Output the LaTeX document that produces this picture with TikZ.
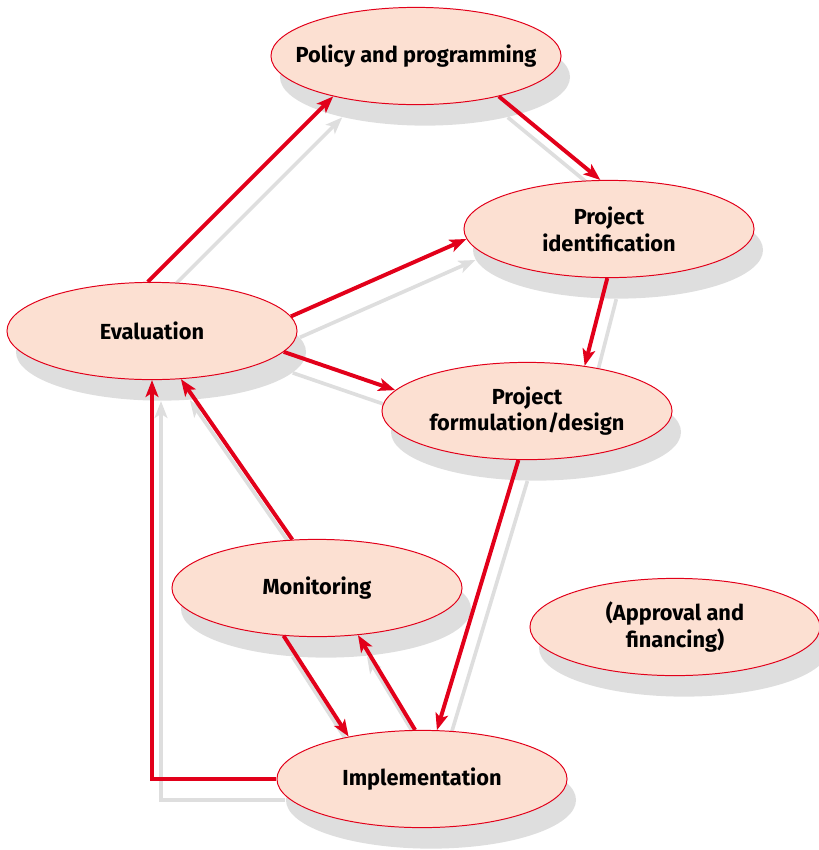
\documentclass[tikz,border=0pt]{standalone}
\usepackage{fontspec}
\setmainfont{Fira Sans}
\usepackage{tikz}
\usetikzlibrary{positioning, arrows.meta, shapes.geometric, shadows}
\definecolor{flowred}{HTML}{E2001A}
\definecolor{stagefill}{HTML}{FCE0D2}
\definecolor{shadegray}{HTML}{DEDEDE}
\pgfdeclarelayer{bg}
\pgfsetlayers{bg,main}

\begin{document}
\begin{tikzpicture}[x=0.025cm, y=-0.025cm,
    stage/.style={ellipse, draw=flowred, line width=0.7pt, fill=stagefill,
        minimum width=7.25cm, minimum height=2.43cm, inner sep=0pt, align=center,
        font=\fontsize{15.5}{19}\selectfont\bfseries,
        drop shadow={shadow xshift=0.225cm, shadow yshift=-0.525cm, fill=shadegray, opacity=1}},
    flow/.style={draw=flowred, line width=2.8pt, -{Stealth[length=0.42cm, width=0.32cm, inset=0.1cm]}},
    ghost/.style={draw=shadegray, line width=2.6pt, -{Stealth[length=0.42cm, width=0.32cm, inset=0.1cm]}},
    sh/.style={shift={(9,21)}}]
    \useasboundingbox (0,0) rectangle (818,850);

    % Stages
    \node[stage] (policy) at (416,56) {\makebox[5cm]{Policy and programming}};
    \node[stage] (ident) at (609,229) {Project\\identification};
    \node[stage] (eval) at (152,331) {Evaluation};
    \node[stage] (design) at (527,411) {Project\\formulation/design};
    \node[stage] (monit) at (317,588) {Monitoring};
    \node[stage] (approv) at (675,627) {(Approval and\\financing)};
    \node[stage] (impl) at (422,779) {Implementation};

    % Shadows of the arrows
    \begin{pgfonlayer}{bg}
        \draw[ghost] ([sh]eval.95) -- ([sh]policy.206);
        \draw[ghost] ([sh]policy.334) -- ([sh]ident.100);
        \draw[ghost] ([sh]eval.6) -- ([sh]ident.184);
        \draw[ghost] ([sh]eval.351) -- ([sh]design.171);
        \draw[ghost] ([sh]ident.268) -- ([sh]design.38);
        \draw[ghost] ([sh]design.260) -- ([sh]impl.73);
        \draw[ghost] ([sh]monit.117) -- ([sh]eval.301);
        \draw[ghost] ([sh]impl.west) -| ([sh]eval.south);
        \draw[ghost] ([sh]monit.235) -- ([sh]impl.150);
        \draw[ghost] ([sh]impl.98) -- ([sh]monit.311);
    \end{pgfonlayer}

    % Arrows
    \draw[flow] (eval.95) -- (policy.206);
    \draw[flow] (policy.334) -- (ident.100);
    \draw[flow] (eval.6) -- (ident.184);
    \draw[flow] (eval.351) -- (design.171);
    \draw[flow] (ident.268) -- (design.38);
    \draw[flow] (design.260) -- (impl.73);
    \draw[flow] (monit.117) -- (eval.301);
    \draw[flow] (impl.west) -| (eval.south); % back to evaluation
    \draw[flow] (monit.235) -- (impl.150);
    \draw[flow] (impl.98) -- (monit.311);
\end{tikzpicture}
\end{document}
